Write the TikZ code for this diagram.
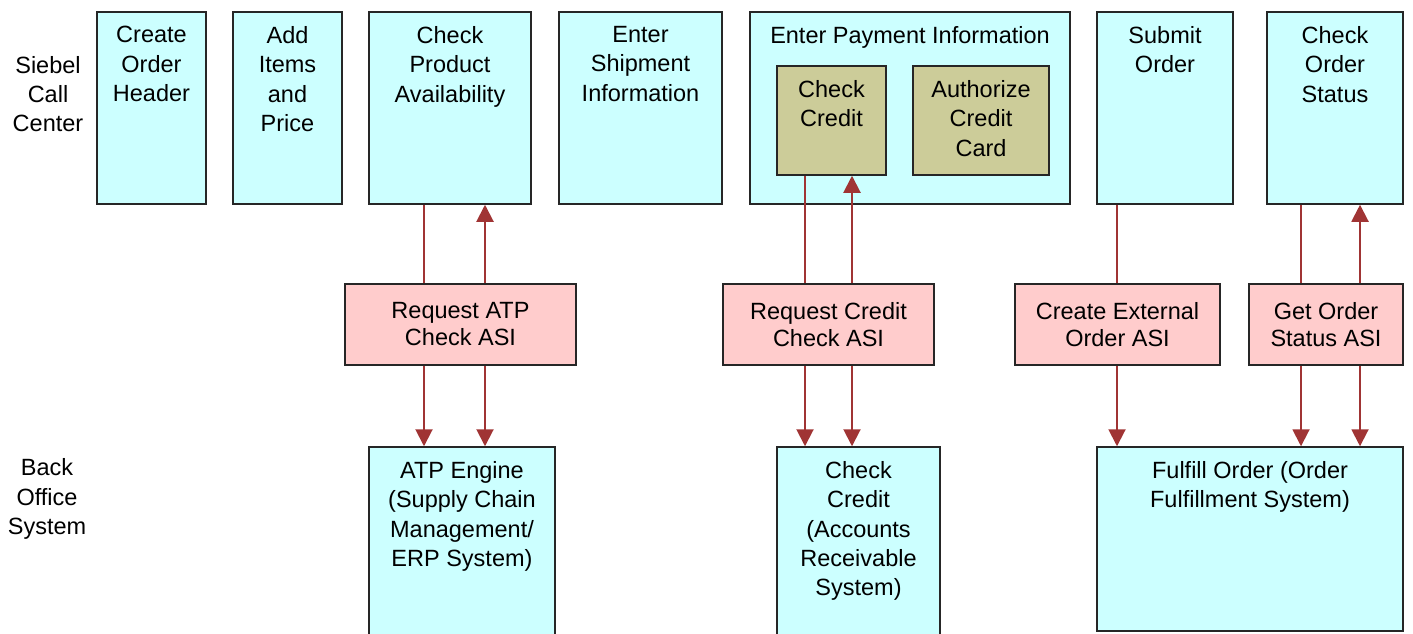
\documentclass[tikz,border=0pt]{standalone}
\usepackage{fontspec}
\setmainfont{Liberation Sans}
\usetikzlibrary{arrows.meta}
\definecolor{boxcyan}{RGB}{204,255,255}
\definecolor{boxpink}{RGB}{255,204,204}
\definecolor{boxolive}{RGB}{204,204,153}
\definecolor{arrowred}{RGB}{160,52,52}
\tikzset{
  txt/.style={font=\fontsize{23.5}{29.3}\selectfont, align=center, inner sep=0pt},
  boxbase/.style={draw=black!85, line width=1.5pt, inner sep=0pt},
  cyanbox/.style={boxbase, fill=boxcyan},
  olivebox/.style={boxbase, fill=boxolive},
  pinkbox/.style={boxbase, fill=boxpink, font=\fontsize{23.5}{27}\selectfont, align=center},
  conn/.style={draw=arrowred, line width=2pt},
  arrowconn/.style={conn, -{Triangle[width=17pt,length=17pt]}, arrowred},
}
% #1 name, #2 style, #3 x1, #4 y1, #5 x2, #6 y2, #7 text (top aligned)
\newcommand{\topaligned}[7]{%
  \node[#2, minimum width={(#5-#3)*1pt}, minimum height={(#6-#4)*1pt},
        label={[txt, anchor=north, yshift=-15pt]north:{#7}}]
        (#1) at ({(#3+#5)/2},{(#4+#6)/2}) {};}
% centred text
\newcommand{\centred}[7]{%
  \node[#2, minimum width={(#5-#3)*1pt}, minimum height={(#6-#4)*1pt}]
        (#1) at ({(#3+#5)/2},{(#4+#6)/2}) {#7};}
\begin{document}
\begin{tikzpicture}[x=1pt,y=-1pt]
\useasboundingbox (0,0) rectangle (1413,633);
\clip (0,0) rectangle (1413,633);
\fill[white] (0,0) rectangle (1413,633);

% side labels
\node[txt] (sieb) at (48,94) {Siebel\\Call\\Center};
\node[txt] (back) at (47,499) {Back\\Office\\System};

% top row
\topaligned{coh}{cyanbox}{97}{12}{206}{204}{Create\\Order\\Header}
\topaligned{aip}{cyanbox}{233}{12}{342}{204}{Add\\Items\\and\\Price}
\topaligned{cpa}{cyanbox}{369}{12}{531}{204}{Check\\Product\\Availability}
\topaligned{esi}{cyanbox}{559}{12}{722}{204}{Enter\\Shipment\\Information}
\topaligned{epi}{cyanbox}{750}{12}{1070}{204}{Enter Payment Information}
\topaligned{ccr}{olivebox}{777}{66}{886}{175}{Check\\Credit}
\topaligned{acc}{olivebox}{913}{66}{1049}{175}{Authorize\\Credit\\Card}
\topaligned{sub}{cyanbox}{1097}{12}{1233}{204}{Submit\\Order}
\topaligned{cos}{cyanbox}{1267}{12}{1403}{204}{Check\\Order\\Status}

% middle row
\centred{ratp}{pinkbox}{345}{284}{576}{365}{Request ATP\\Check ASI}
\centred{rcc}{pinkbox}{723}{284}{934}{365}{Request Credit\\Check ASI}
\centred{ceo}{pinkbox}{1015}{284}{1220}{365}{Create External\\Order ASI}
\centred{gos}{pinkbox}{1249}{284}{1403}{365}{Get Order\\Status ASI}

% bottom row
\topaligned{atp}{cyanbox}{369}{447}{555}{645}{ATP Engine\\(Supply Chain\\Management/\\ERP System)}
\topaligned{bcc}{cyanbox}{777}{447}{940}{645}{Check\\Credit\\(Accounts\\Receivable\\System)}
\topaligned{ful}{cyanbox}{1097}{447}{1403}{631}{Fulfill Order (Order\\Fulfillment System)}

% connector x positions
\coordinate (a1) at (424,0);
\coordinate (a2) at (485,0);
\coordinate (c1) at (805,0);
\coordinate (c2) at (852,0);
\coordinate (s1) at (1117,0);
\coordinate (g1) at (1301,0);
\coordinate (g2) at (1360,0);

% ATP
\draw[conn] (cpa.south -| a1) -- (ratp.north -| a1);
\draw[arrowconn] (ratp.north -| a2) -- (cpa.south -| a2);
\draw[arrowconn] (ratp.south -| a1) -- (atp.north -| a1);
\draw[arrowconn] (ratp.south -| a2) -- (atp.north -| a2);
% Credit
\draw[conn] (ccr.south -| c1) -- (rcc.north -| c1);
\draw[arrowconn] (rcc.north -| c2) -- (ccr.south -| c2);
\draw[arrowconn] (rcc.south -| c1) -- (bcc.north -| c1);
\draw[arrowconn] (rcc.south -| c2) -- (bcc.north -| c2);
% Submit
\draw[conn] (sub.south -| s1) -- (ceo.north -| s1);
\draw[arrowconn] (ceo.south -| s1) -- (ful.north -| s1);
% Status
\draw[conn] (cos.south -| g1) -- (gos.north -| g1);
\draw[arrowconn] (gos.north -| g2) -- (cos.south -| g2);
\draw[arrowconn] (gos.south -| g1) -- (ful.north -| g1);
\draw[arrowconn] (gos.south -| g2) -- (ful.north -| g2);
\end{tikzpicture}
\end{document}
